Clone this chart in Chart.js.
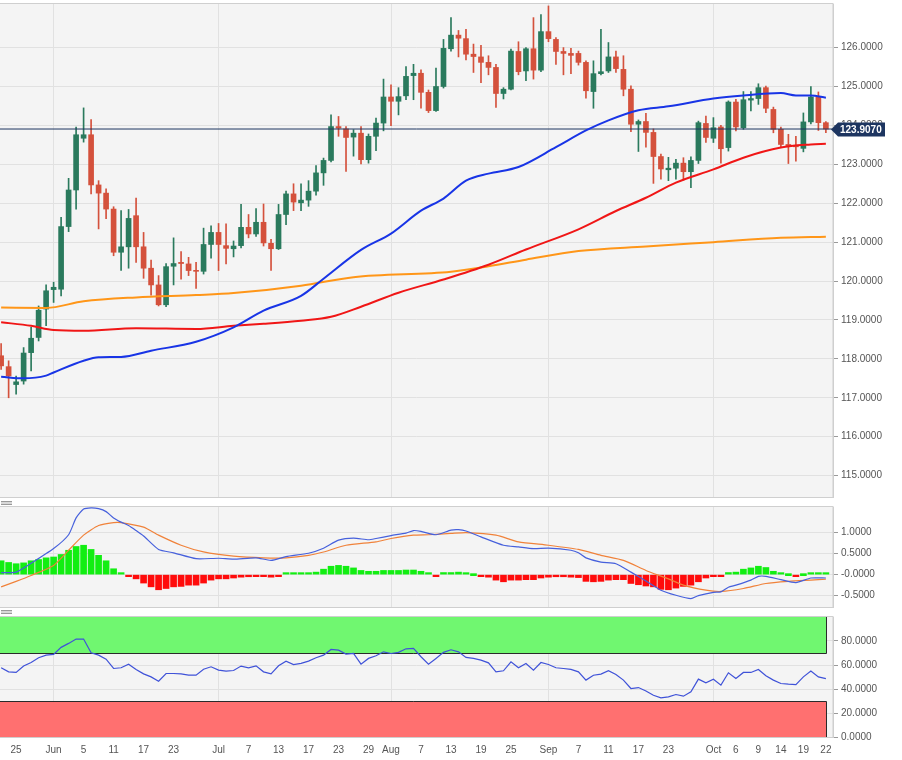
<!DOCTYPE html>
<html><head><meta charset="utf-8">
<script src="https://cdn.jsdelivr.net/npm/chart.js@4.4.1/dist/chart.umd.min.js"></script>
<style>
html,body{margin:0;padding:0;background:#fff;width:902px;height:760px;overflow:hidden}
.panel{position:absolute;left:0;width:902px}
.handle{position:absolute;left:1px;width:11px;height:2px;border-top:1px solid #9a9a9a;border-bottom:1px solid #9a9a9a;background:#d8d8d8;z-index:5}
</style></head>
<body>
<div class="panel" style="top:0;height:500px"><canvas id="cMain" width="902" height="500"></canvas></div>
<div class="panel" style="top:503px;height:106px"><canvas id="cMacd" width="902" height="106"></canvas></div>
<div class="panel" style="top:612px;height:148px"><canvas id="cRsi" width="902" height="148"></canvas></div>
<div class="handle" style="top:501px"></div>
<div class="handle" style="top:610px"></div>
<script>
// ---------------- DATA ----------------
// trading days, index 0 = May 21 ... index 110 = Oct 22
const opens  = [118.08,117.80,117.34,117.43,118.16,118.55,119.28,119.78,119.79,121.40,
122.34,123.67,123.76,122.47,122.26,121.85,120.74,120.88,121.68,120.88,
120.33,119.90,119.39,120.38,120.48,120.44,120.27,120.25,120.94,121.25,
120.91,120.83,120.91,121.38,121.21,121.51,120.97,120.83,121.71,122.24,
122.01,122.08,122.31,122.78,123.10,123.97,123.91,123.70,123.80,123.12,
123.72,124.06,124.73,124.62,124.76,125.28,125.34,124.85,124.38,125.00,
125.97,126.32,126.23,125.83,125.76,125.62,125.49,124.82,124.93,125.90,
125.40,125.97,125.42,126.41,126.21,125.90,125.85,125.85,125.62,124.87,
125.33,125.40,125.76,125.44,124.93,124.03,124.10,123.82,123.20,122.86,
122.90,123.03,122.81,123.10,124.05,123.67,123.96,123.43,124.60,123.94,
124.65,124.69,124.97,124.41,123.90,123.51,123.49,123.41,124.09,124.73,
124.07];
const highs  = [118.39,117.95,117.56,118.29,118.81,119.36,119.90,119.97,121.64,122.64,
123.96,124.45,124.15,122.58,122.37,121.91,121.81,121.84,122.13,121.25,
120.54,120.14,120.45,121.11,120.76,120.61,120.48,121.36,121.42,121.48,
121.47,121.03,121.97,121.71,121.86,121.98,121.07,121.97,122.31,122.50,
122.50,122.58,122.97,123.16,124.27,124.23,123.97,123.89,123.97,123.78,
124.19,125.19,125.04,124.97,125.51,125.57,125.43,124.91,125.47,126.21,
126.77,126.44,126.47,126.09,126.06,125.79,125.57,124.97,125.96,126.15,
126.00,126.77,126.85,127.07,126.26,126.00,125.98,125.91,125.66,125.66,
126.47,126.13,125.91,125.79,125.02,124.14,124.31,123.91,123.26,123.18,
123.13,123.17,123.19,124.11,124.24,124.20,124.00,124.63,124.67,124.87,
124.87,125.07,125.01,124.47,123.96,123.77,123.72,124.32,125.00,124.86,
124.10];
const lows   = [117.73,117.00,117.09,117.35,117.69,118.46,118.85,119.45,119.62,121.27,
121.85,123.57,122.24,121.34,121.60,120.65,120.27,120.33,120.48,120.07,
119.64,119.36,119.34,119.90,120.05,120.14,119.81,120.18,120.59,120.27,
120.44,120.62,120.85,121.11,121.15,120.90,120.27,120.81,121.45,121.81,
121.81,121.92,122.21,122.46,123.06,123.72,122.82,123.21,123.01,123.03,
123.35,123.86,123.99,124.27,124.66,124.66,124.44,124.33,124.36,124.96,
125.91,125.76,125.68,125.36,125.10,125.30,124.46,124.68,124.91,125.30,
125.15,125.19,125.38,126.15,125.57,125.30,125.33,125.55,124.70,124.44,
125.30,125.36,125.36,124.76,123.84,123.33,123.44,122.51,122.62,122.58,
122.62,122.59,122.40,123.02,123.56,123.56,123.03,123.34,123.86,123.90,
124.37,124.54,124.33,123.81,123.43,123.02,123.08,123.32,124.04,123.87,
123.81];
const closes = [117.82,117.56,117.41,118.15,118.53,119.25,119.75,119.84,121.40,122.34,
123.76,123.76,122.47,122.26,121.85,120.74,120.88,121.61,120.88,120.33,
119.90,119.39,120.37,120.45,120.45,120.27,120.25,120.94,121.25,120.94,
120.84,120.90,121.38,121.21,121.51,120.98,120.83,121.71,122.24,122.03,
122.08,122.31,122.78,123.10,123.97,123.93,123.69,123.80,123.12,123.72,
124.06,124.73,124.62,124.74,125.26,125.34,124.85,124.38,125.00,125.98,
126.32,126.24,125.83,125.77,125.62,125.49,124.82,124.93,125.91,125.38,
125.97,125.42,126.41,126.23,125.90,125.85,125.80,125.62,124.89,125.33,
125.38,125.76,125.46,124.93,124.03,124.10,123.82,123.20,122.88,122.90,
123.03,122.81,123.10,124.07,123.69,123.94,123.40,124.60,123.96,124.66,
124.69,124.97,124.44,123.90,123.51,123.46,123.45,124.09,124.73,124.07,
123.907];

// moving averages (index, value)
const ma50Idx  = [0,3,6,7,11,13,16,20,26,31,35,40,43,48,52,56,59,62,65,69,74,78,81,85,89,95,99,104,106,108,110];
const ma50Val  = [117.54,117.50,117.57,117.65,117.95,118.04,118.05,118.21,118.44,118.81,119.24,119.62,120.06,120.80,121.22,121.81,122.12,122.58,122.76,122.93,123.44,123.87,124.13,124.39,124.49,124.69,124.77,124.83,124.77,124.77,124.71];
const ma100Idx = [0,4,7,11,18,26,31,35,40,44,48,53,59,65,70,77,82,86,90,95,99,104,108,110];
const ma100Val = [118.94,118.85,118.74,118.72,118.79,118.77,118.85,118.90,118.98,119.08,119.34,119.70,120.04,120.42,120.81,121.33,121.80,122.14,122.53,122.87,123.17,123.43,123.51,123.53];
const ma200Idx = [0,6,11,18,26,31,40,47,60,65,70,77,86,95,104,110];
const ma200Val = [119.32,119.31,119.48,119.58,119.64,119.69,119.88,120.10,120.24,120.38,120.55,120.77,120.89,121.00,121.11,121.14];

// MACD
const macdIdx = [0,2,4,7,9,10,11,12,13,14,15,16,17,18,19,21,23,26,29,31,34,36,38,41,43,45,47,49,50,52,54,55,56,58,60,61,62,64,67,69,71,73,76,77,78,80,82,84,86,88,90,92,93,95,96,97,98,100,101,102,104,106,108,110];
const macdVal = [0.05,0.06,0.27,0.62,0.95,1.35,1.56,1.59,1.57,1.50,1.35,1.25,1.17,1.05,0.92,0.60,0.52,0.38,0.39,0.37,0.40,0.34,0.43,0.51,0.63,0.82,0.87,0.83,0.86,0.93,0.99,1.05,1.03,0.95,1.06,1.07,1.04,0.90,0.70,0.66,0.62,0.63,0.58,0.52,0.40,0.30,0.26,0.06,-0.15,-0.37,-0.49,-0.57,-0.50,-0.42,-0.41,-0.30,-0.25,-0.13,-0.04,-0.04,-0.12,-0.19,-0.08,-0.08];
const signalIdx = [0,2,4,7,9,11,13,15,16,19,21,24,27,31,35,38,41,43,46,50,52,55,57,60,62,66,69,73,77,80,83,86,89,91,94,96,99,102,105,108,110];
const signalVal = [-0.29,-0.16,-0.02,0.22,0.58,0.94,1.17,1.24,1.24,1.13,0.94,0.70,0.54,0.44,0.40,0.40,0.46,0.54,0.70,0.78,0.86,0.94,0.95,0.98,1.00,0.94,0.78,0.70,0.60,0.46,0.34,0.10,-0.10,-0.25,-0.37,-0.40,-0.33,-0.21,-0.16,-0.13,-0.11];
const histVal = [0.33,0.29,0.26,0.28,0.33,0.36,0.40,0.42,0.48,0.58,
0.67,0.70,0.60,0.46,0.33,0.14,0.015,-0.015,-0.10,-0.20,
-0.29,-0.36,-0.33,-0.29,-0.28,-0.25,-0.25,-0.20,-0.13,-0.10,
-0.10,-0.08,-0.06,-0.05,-0.02,-0.04,-0.06,-0.02,0.015,0.02,
0.03,0.04,0.06,0.13,0.20,0.22,0.20,0.16,0.10,0.08,
0.08,0.10,0.10,0.10,0.11,0.11,0.08,0.01,-0.01,0.05,
0.05,0.06,0.04,0.00,-0.03,-0.06,-0.13,-0.17,-0.13,-0.13,
-0.12,-0.12,-0.08,-0.06,-0.05,-0.05,-0.06,-0.07,-0.16,-0.17,
-0.16,-0.13,-0.12,-0.12,-0.21,-0.24,-0.27,-0.29,-0.35,-0.36,
-0.32,-0.28,-0.25,-0.17,-0.08,-0.03,-0.02,0.05,0.06,0.13,
0.16,0.20,0.17,0.08,0.04,0.00,-0.02,0.00,0.04,0.04,
0.04];

// RSI
const rsiVal = [57.7,54.3,53.8,59.1,62.1,66.0,68.2,68.8,74.7,78.0,
81.6,81.6,70.2,68.2,64.9,57.1,57.7,60.7,56.3,52.6,
50.1,46.5,52.9,52.9,52.6,51.5,51.5,56.5,58.5,55.7,
54.9,55.4,59.1,57.7,59.3,54.3,52.6,59.3,63.2,60.4,
61.3,63.2,66.0,68.2,73.0,72.4,69.1,69.6,60.7,65.5,
67.7,71.0,69.6,70.5,73.5,73.8,66.9,60.7,65.5,70.5,
72.7,71.0,66.3,65.5,64.1,61.8,54.3,55.2,62.7,57.7,
61.3,55.7,62.1,60.4,57.7,57.1,56.3,54.3,47.4,51.5,
52.4,55.2,52.1,47.4,40.4,41.2,38.4,34.8,32.6,33.4,
35.4,34.0,37.6,48.2,45.1,48.2,43.2,53.5,48.7,53.8,
53.8,56.3,51.0,47.4,44.6,44.0,43.7,50.1,54.9,50.1,
48.7];
const rsiUpper = 70, rsiLower = 30, rsiMax = 100, rsiMin = 0;

// axes
const xTickIdx    = [2,7,11,15,19,23,29,33,37,41,45,49,52,56,60,64,68,73,77,81,85,89,95,98,101,104,107,110];
const xTickLabels = ['25','Jun','5','11','17','23','Jul','7','13','17','23','29','Aug','7','13','19','25','Sep','7','11','17','23','Oct','6','9','14','19','22'];
const monthStartIdx = [7,29,52,73,95];
const priceTicks = [115,116,117,118,119,120,121,122,123,124,125,126];
const macdTicks = [1,0.5,0,-0.5];
const macdTickLabels = ['1.0000','0.5000','-0.0000','-0.5000'];
const rsiTicks = [0,20,40,60,80];

// ---------------- STYLE ----------------
const FONT = "'Liberation Sans', Arial, sans-serif";
Chart.defaults.font.family = FONT;
Chart.defaults.font.size = 10;
Chart.defaults.color = '#555';
const GREEN = '#2a7a5d', RED = '#d4513c';
const GRID = '#e1e1e1';
const X_MIN = -0.15, X_MAX = 110.95, AXIS_W = 69;
const N = closes.length;
const idx = closes.map((_, i) => i);
const candleColor = i => closes[i] >= opens[i] ? GREEN : RED;
const pts = (xs, ys) => xs.map((x, k) => ({x: x, y: ys[k]}));

const panelFrame = {
  id: 'panelFrame',
  beforeDraw(chart) {
    const {ctx, chartArea: a} = chart;
    ctx.save(); ctx.fillStyle = '#f4f4f4';
    ctx.fillRect(a.left, a.top, a.right - a.left, a.bottom - a.top); ctx.restore();
  },
  afterDraw(chart) {
    const {ctx, chartArea: a} = chart;
    ctx.save(); ctx.strokeStyle = '#cfcfcf'; ctx.lineWidth = 1;
    ctx.strokeRect(a.left - 0.5, Math.floor(a.top) - 0.5, a.right - a.left + 0.5, a.bottom - a.top + 1); ctx.restore();
  }
};

function xScale(axisHeight) {
  const show = axisHeight > 0;
  return {
    type: 'linear', min: X_MIN, max: X_MAX, offset: false,
    afterBuildTicks: s => { s.ticks = xTickIdx.map(v => ({value: v})); },
    afterFit: s => { s.height = axisHeight; s.paddingLeft = 0; s.paddingRight = 0; },
    grid: {
      offset: false, drawTicks: false,
      color: c => (c.tick && monthStartIdx.includes(c.tick.value)) ? GRID : 'rgba(0,0,0,0)'
    },
    border: {display: false},
    ticks: {
      display: show, autoSkip: false, maxRotation: 0, padding: 7, color: '#555',
      font: {size: 10},
      callback: v => { const k = xTickIdx.indexOf(v); return k >= 0 ? xTickLabels[k] : ''; }
    }
  };
}
function yScale(min, max, ticks, fmt) {
  return {
    position: 'right', min: min, max: max,
    afterBuildTicks: s => { s.ticks = ticks.map(v => ({value: v})); },
    afterFit: s => { s.width = AXIS_W; s.paddingTop = 0; s.paddingBottom = 0; },
    grid: {color: GRID, tickColor: '#9a9a9a', tickLength: 5},
    border: {color: '#cfcfcf'},
    ticks: {padding: 3, color: '#555', font: {size: 10}, callback: fmt}
  };
}
const baseOpts = {
  responsive: false, animation: false, events: [],
  plugins: {legend: {display: false}, tooltip: {enabled: false}}
};

// ---------------- MAIN PRICE PANEL ----------------
const lastClose = closes[N - 1];
const lastLabel = {
  id: 'lastLabel',
  afterDraw(chart) {
    const {ctx, chartArea: a} = chart;
    const y = Math.round(chart.scales.y.getPixelForValue(lastClose)) + 0.5;
    const x0 = a.right - 2;
    ctx.save();
    ctx.fillStyle = '#1d3560';
    ctx.beginPath();
    ctx.moveTo(x0, y); ctx.lineTo(x0 + 7, y - 7); ctx.lineTo(x0 + 54, y - 7);
    ctx.lineTo(x0 + 54, y + 7); ctx.lineTo(x0 + 7, y + 7); ctx.closePath(); ctx.fill();
    ctx.fillStyle = '#fff'; ctx.font = 'bold 10px ' + FONT;
    ctx.textBaseline = 'middle'; ctx.textAlign = 'left';
    ctx.fillText(lastClose.toFixed(4), x0 + 9, y + 0.5);
    ctx.restore();
  }
};

new Chart(document.getElementById('cMain'), {
  type: 'bar',
  data: {
    datasets: [
      {type: 'line', data: pts(ma50Idx, ma50Val), borderColor: '#1834e6', borderWidth: 2, pointRadius: 0, cubicInterpolationMode: 'monotone', order: 0},
      {type: 'line', data: pts(ma100Idx, ma100Val), borderColor: '#f01616', borderWidth: 2, pointRadius: 0, cubicInterpolationMode: 'monotone', order: 0},
      {type: 'line', data: pts(ma200Idx, ma200Val), borderColor: '#ff9618', borderWidth: 2, pointRadius: 0, cubicInterpolationMode: 'monotone', order: 0},
      {type: 'line', data: [{x: X_MIN - 1, y: lastClose}, {x: X_MAX + 1, y: lastClose}], borderColor: '#1d3560', borderWidth: 1, pointRadius: 0, order: 0},
      {type: 'bar', data: idx.map(i => ({x: i, y: [Math.min(opens[i], closes[i]), Math.max(opens[i], closes[i])]})),
       backgroundColor: c => candleColor(c.dataIndex), barThickness: 5, minBarLength: 1, grouped: false, order: 1},
      {type: 'bar', data: idx.map(i => ({x: i, y: [lows[i], highs[i]]})),
       backgroundColor: c => candleColor(c.dataIndex), barThickness: 1, grouped: false, order: 2}
    ]
  },
  options: Object.assign({}, baseOpts, {
    layout: {padding: {top: 4, bottom: 3, left: 0, right: 0}},
    scales: {x: xScale(0), y: yScale(114.45, 127.12, priceTicks, v => v.toFixed(4))}
  }),
  plugins: [panelFrame, lastLabel]
});

// ---------------- MACD PANEL ----------------
new Chart(document.getElementById('cMacd'), {
  type: 'bar',
  data: {
    datasets: [
      {type: 'line', data: pts(macdIdx, macdVal), borderColor: '#4660dc', borderWidth: 1.2, pointRadius: 0, tension: 0.2, order: 0},
      {type: 'line', data: pts(signalIdx, signalVal), borderColor: '#f0823a', borderWidth: 1.2, pointRadius: 0, tension: 0.2, order: 0},
      {type: 'bar', data: idx.map(i => ({x: i, y: histVal[i]})),
       backgroundColor: c => histVal[c.dataIndex] >= 0 ? '#12ee12' : '#ff0b0b', barThickness: 6, minBarLength: 2, grouped: false, order: 1}
    ]
  },
  options: Object.assign({}, baseOpts, {
    layout: {padding: {top: 4, bottom: 2, left: 0, right: 0}},
    scales: {x: xScale(0), y: yScale(-0.77, 1.61, macdTicks, v => { const k = macdTicks.indexOf(v); return k >= 0 ? macdTickLabels[k] : ''; })}
  }),
  plugins: [panelFrame]
});

// ---------------- RSI PANEL ----------------
const rsiBands = {
  id: 'rsiBands',
  beforeDatasetsDraw(chart) {
    const {ctx, chartArea: a, scales: {x, y}} = chart;
    const xr = Math.round(x.getPixelForValue(N - 1)) + 0.5;
    const yT = y.getPixelForValue(rsiMax), yU = Math.round(y.getPixelForValue(rsiUpper)) + 0.5;
    const yL = Math.round(y.getPixelForValue(rsiLower)) + 0.5, yB = y.getPixelForValue(rsiMin);
    ctx.save();
    ctx.fillStyle = '#70f770'; ctx.fillRect(a.left, yT, xr - a.left, yU - yT);
    ctx.fillStyle = '#ff7070'; ctx.fillRect(a.left, yL, xr - a.left, yB - yL);
    ctx.strokeStyle = '#2a2a2a'; ctx.lineWidth = 1;
    ctx.beginPath();
    ctx.moveTo(a.left, yU); ctx.lineTo(xr, yU); ctx.lineTo(xr, yT);
    ctx.moveTo(a.left, yL); ctx.lineTo(xr, yL); ctx.lineTo(xr, yB);
    ctx.stroke();
    ctx.restore();
  }
};
new Chart(document.getElementById('cRsi'), {
  type: 'line',
  data: {
    datasets: [
      {data: idx.map(i => ({x: i, y: rsiVal[i]})), borderColor: '#3f52d8', borderWidth: 1.2, pointRadius: 0, tension: 0}
    ]
  },
  options: Object.assign({}, baseOpts, {
    layout: {padding: {top: 5, bottom: 3, left: 0, right: 0}},
    scales: {x: xScale(20), y: yScale(rsiMin, rsiMax, rsiTicks, v => v.toFixed(4))}
  }),
  plugins: [panelFrame, rsiBands]
});
</script>
</body></html>
